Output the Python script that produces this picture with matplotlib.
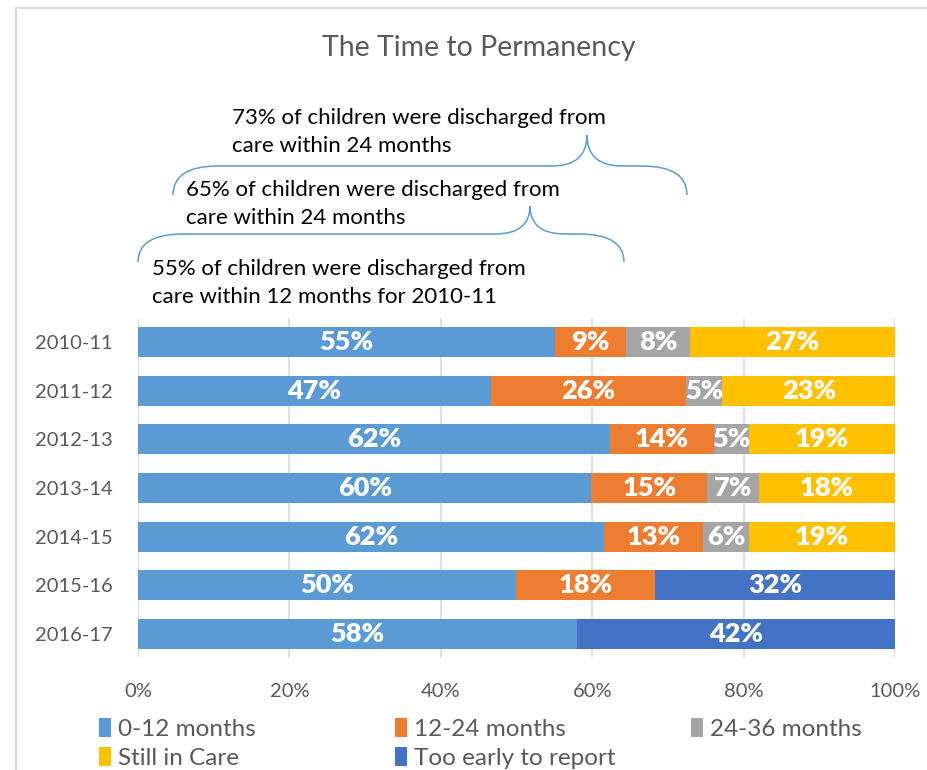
import numpy as np
import matplotlib
matplotlib.use("Agg")
import matplotlib.pyplot as plt
from matplotlib.path import Path
from matplotlib.patches import PathPatch, Rectangle

plt.rcParams['font.family'] = ['Lato', 'DejaVu Sans']

years = ['2010-11', '2011-12', '2012-13', '2013-14', '2014-15', '2015-16', '2016-17']
series = ['0-12 months', '12-24 months', '24-36 months', 'Still in Care', 'Too early to report']
m0_12 = [55.1, 46.6, 62.3, 59.9, 61.6, 49.9, 58.0]
m12_24 = [9.4, 25.8, 13.8, 15.3, 13.1, 18.4, 0]
m24_36 = [8.4, 4.8, 4.6, 6.8, 6.0, 0, 0]
still_in_care = [27.1, 22.8, 19.3, 18.0, 19.3, 0, 0]
too_early = [0, 0, 0, 0, 0, 31.7, 42.0]
colors = ['#5B9BD5', '#ED7D31', '#A5A5A5', '#FFC000', '#4472C4']

notes = ["73% of children were discharged from\ncare within 24 months",
         "65% of children were discharged from\ncare within 24 months",
         "55% of children were discharged from\ncare within 12 months for 2010-11"]

W, H = 928, 770
fig = plt.figure(figsize=(W / 100, H / 100), dpi=100)

def fx(x):
    return x / W

def fy(y):
    return 1 - y / H

# chart border
fig.patches.append(Rectangle((fx(16), fy(H + 10)), 1.2, fy(8) - fy(H + 10),
                             transform=fig.transFigure, fill=False,
                             edgecolor='#d9d9d9', lw=1.6))

ax = fig.add_axes([fx(138), fy(658), fx(895) - fx(138), fy(318) - fy(658)])

y = np.arange(len(years))
left = np.zeros(len(years))
data = [m0_12, m12_24, m24_36, still_in_care, too_early]
handles = []
for vals, name, c in zip(data, series, colors):
    vals = np.array(vals)
    h = ax.barh(y, vals, left=left, height=0.62, color=c, label=name, zorder=2)
    handles.append(h)
    for yi, (l, v) in enumerate(zip(left, vals)):
        if v > 0:
            ax.text(l + v / 2, yi, '{:.0f}%'.format(v), ha='center', va='center',
                    color='white', fontsize=19.5, fontweight='heavy', zorder=3)
    left += vals

ax.set_xlim(0, 100)
ax.set_ylim(len(years) - 0.5, -0.5)
ax.set_yticks(y)
ax.set_yticklabels(years)
ax.set_xticks(np.arange(0, 101, 20))
ax.set_xticklabels(['{}%'.format(v) for v in range(0, 101, 20)])
ax.tick_params(axis='both', length=0, labelsize=14.5, colors='#595959')
ax.tick_params(axis='y', pad=18)
ax.tick_params(axis='x', pad=18)
ax.xaxis.grid(True, color='#d9d9d9', lw=1.2, zorder=0)
for s in ax.spines.values():
    s.set_visible(False)

fig.text(fx(479), fy(48), 'The Time to Permanency', ha='center', va='center',
         fontsize=20.5, color='#595959')

# annotations
fig.text(fx(232), fy(132), notes[0], ha='left', va='center', fontsize=16,
         color='black', linespacing=1.45)
fig.text(fx(186), fy(204), notes[1], ha='left', va='center', fontsize=16,
         color='black', linespacing=1.45)
fig.text(fx(152), fy(283), notes[2], ha='left', va='center', fontsize=16,
         color='black', linespacing=1.45)

def brace(x0, x1, xt, ye, ym, yt, r=45, r2=35):
    pts = [(x0, ye), (x0, ym), (x0 + r, ym), (xt - r2, ym), (xt, ym), (xt, yt),
           (xt, ym), (xt + r2, ym), (x1 - r, ym), (x1, ym), (x1, ye)]
    codes = [Path.MOVETO, Path.CURVE3, Path.CURVE3, Path.LINETO, Path.CURVE3, Path.CURVE3,
             Path.CURVE3, Path.CURVE3, Path.LINETO, Path.CURVE3, Path.CURVE3]
    pts = [(fx(a), fy(b)) for a, b in pts]
    fig.patches.append(PathPatch(Path(pts, codes), transform=fig.transFigure,
                                 fill=False, edgecolor='#5B9BD5', lw=1.1))

brace(173, 687, 587, 195, 166, 135)
brace(138, 624, 530, 262, 234, 206)

# legend: three columns, row-major order
cols = [[0, 3], [1, 4], [2]]
col_x = [82, 378, 674]
for idx, xpos in zip(cols, col_x):
    fig.legend([handles[i] for i in idx], [series[i] for i in idx],
               loc='upper left', bbox_to_anchor=(fx(xpos), fy(701)),
               frameon=False, fontsize=17.5, handlelength=0.5, handleheight=0.85,
               handletextpad=0.3, labelspacing=0.28, borderpad=0.2,
               labelcolor='#595959')

fig.savefig('out.png', dpi=100)
